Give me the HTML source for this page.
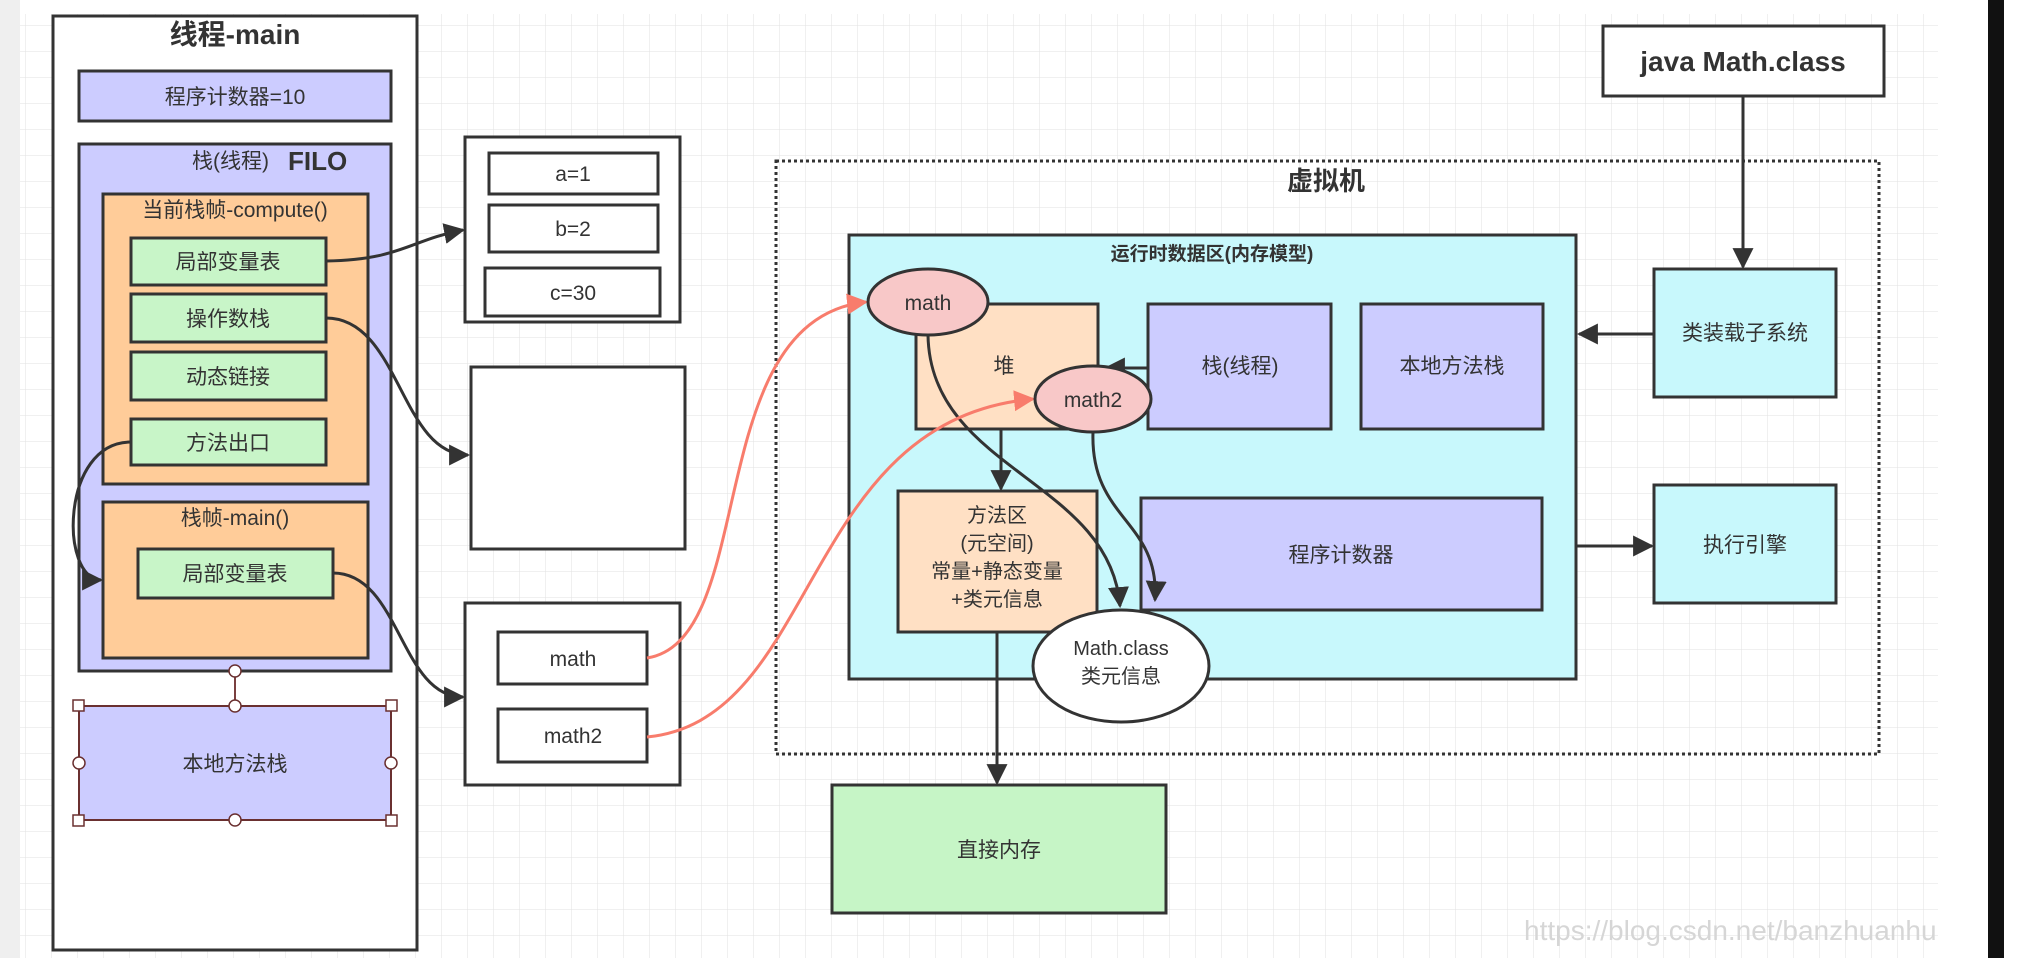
<!DOCTYPE html>
<html><head><meta charset="utf-8"><style>
html,body{margin:0;padding:0;background:#fff}
svg{display:block}
text{font-family:"Liberation Sans","Noto Sans CJK SC",sans-serif;fill:#333}
</style></head><body>
<svg width="2038" height="958" viewBox="0 0 2038 958" xmlns="http://www.w3.org/2000/svg">
<defs>
<pattern id="g" width="26" height="26" patternUnits="userSpaceOnUse"><path d="M26 0V26H0" fill="none" stroke="#e2e2e2" stroke-width="1"/></pattern>
<marker id="a" viewBox="0 0 10 10" refX="9" refY="5" markerWidth="7" markerHeight="7" orient="auto"><path d="M0 0L10 5L0 10z" fill="#333"/></marker>
<marker id="p" viewBox="0 0 10 10" refX="9" refY="5" markerWidth="7" markerHeight="7" orient="auto"><path d="M0 0L10 5L0 10z" fill="#f87c6c"/></marker>
</defs>
<rect x="0" y="0" width="2038" height="958" fill="#fff"/>
<rect x="20" y="14" width="1918" height="944" fill="url(#g)"/>
<rect x="0" y="0" width="20" height="958" fill="#efefef"/>
<rect x="1988" y="0" width="16" height="958" fill="#111"/>

<rect x="53" y="16" width="364" height="934" fill="#fff" stroke="#333" stroke-width="3"/>
<text x="235" y="44" font-size="28" font-weight="bold" text-anchor="middle">线程-main</text>
<rect x="79" y="71" width="312" height="50" fill="#ccccff" stroke="#333" stroke-width="3"/>
<text x="235" y="104" font-size="21" text-anchor="middle">程序计数器=10</text>
<rect x="79" y="144" width="312" height="527" fill="#ccccff" stroke="#333" stroke-width="3"/>
<text x="192" y="168" font-size="21">栈(线程)</text><text x="288" y="170" font-size="26" font-weight="bold">FILO</text>
<rect x="103" y="194" width="265" height="290" fill="#ffcc99" stroke="#333" stroke-width="3"/>
<text x="235" y="217" font-size="21" text-anchor="middle">当前栈帧-compute()</text>
<g fill="#c8f5c8" stroke="#333" stroke-width="3">
<rect x="131" y="238" width="195" height="47"/><rect x="131" y="294" width="195" height="48"/>
<rect x="131" y="352" width="195" height="48"/><rect x="131" y="419" width="195" height="46"/>
<rect x="103" y="502" width="265" height="156" fill="#ffcc99"/>
<rect x="138" y="549" width="195" height="49"/>
</g>
<g font-size="21" text-anchor="middle">
<text x="228" y="269">局部变量表</text><text x="228" y="326">操作数栈</text>
<text x="228" y="384">动态链接</text><text x="228" y="450">方法出口</text>
<text x="235" y="525">栈帧-main()</text><text x="235" y="581">局部变量表</text>
</g>
<line x1="235" y1="671" x2="235" y2="706" stroke="#7a4040" stroke-width="2"/>
<rect x="79" y="706" width="312" height="114" fill="#ccccff" stroke="#6a3030" stroke-width="2"/>
<text x="235" y="771" font-size="21" text-anchor="middle">本地方法栈</text>
<g fill="#fff" stroke="#6a3030" stroke-width="1.5">
<circle cx="235" cy="671" r="6"/><circle cx="235" cy="706" r="6"/><circle cx="79" cy="763" r="6"/><circle cx="391" cy="763" r="6"/><circle cx="235" cy="820" r="6"/>
<rect x="73" y="700" width="11" height="11"/><rect x="386" y="700" width="11" height="11"/><rect x="73" y="815" width="11" height="11"/><rect x="386" y="815" width="11" height="11"/>
</g>

<g fill="#fff" stroke="#333" stroke-width="3">
<rect x="465" y="137" width="215" height="185"/>
<rect x="489" y="153" width="169" height="41"/><rect x="489" y="205" width="169" height="47"/><rect x="485" y="268" width="175" height="48"/>
<rect x="471" y="367" width="214" height="182"/>
<rect x="465" y="603" width="215" height="182"/>
<rect x="498" y="632" width="149" height="52"/><rect x="498" y="709" width="149" height="53"/>
</g>
<g font-size="21" text-anchor="middle">
<text x="573" y="181">a=1</text><text x="573" y="236">b=2</text><text x="573" y="300">c=30</text>
<text x="573" y="666">math</text><text x="573" y="743">math2</text>
</g>

<rect x="1603" y="26" width="281" height="70" fill="#fff" stroke="#333" stroke-width="3"/>
<text x="1743" y="71" font-size="28" font-weight="bold" text-anchor="middle">java Math.class</text>
<rect x="776" y="161" width="1103" height="593" fill="none" stroke="#333" stroke-width="3" stroke-dasharray="3 3"/>
<text x="1326" y="190" font-size="26" font-weight="bold" text-anchor="middle">虚拟机</text>
<rect x="849" y="235" width="727" height="444" fill="#c8f8fc" stroke="#333" stroke-width="3"/>
<text x="1212" y="260" font-size="19" font-weight="bold" text-anchor="middle">运行时数据区(内存模型)</text>
<rect x="916" y="304" width="182" height="125" fill="#ffe0c4" stroke="#333" stroke-width="3"/>
<text x="1004" y="373" font-size="21" text-anchor="middle">堆</text>
<rect x="1148" y="304" width="183" height="125" fill="#ccccff" stroke="#333" stroke-width="3"/>
<text x="1240" y="373" font-size="21" text-anchor="middle">栈(线程)</text>
<rect x="1361" y="304" width="182" height="125" fill="#ccccff" stroke="#333" stroke-width="3"/>
<text x="1452" y="373" font-size="21" text-anchor="middle">本地方法栈</text>
<rect x="898" y="491" width="199" height="141" fill="#ffe0c4" stroke="#333" stroke-width="3"/>
<g font-size="20" text-anchor="middle"><text x="997" y="522">方法区</text><text x="997" y="550">(元空间)</text><text x="997" y="578">常量+静态变量</text><text x="997" y="606">+类元信息</text></g>
<rect x="1141" y="498" width="401" height="112" fill="#ccccff" stroke="#333" stroke-width="3"/>
<text x="1341" y="562" font-size="21" text-anchor="middle">程序计数器</text>
<rect x="1654" y="269" width="182" height="128" fill="#c8f8fc" stroke="#333" stroke-width="3"/>
<text x="1745" y="340" font-size="21" text-anchor="middle">类装载子系统</text>
<rect x="1654" y="485" width="182" height="118" fill="#c8f8fc" stroke="#333" stroke-width="3"/>
<text x="1745" y="552" font-size="21" text-anchor="middle">执行引擎</text>
<rect x="832" y="785" width="334" height="128" fill="#c6f5c6" stroke="#333" stroke-width="3"/>
<text x="999" y="857" font-size="21" text-anchor="middle">直接内存</text>

<g fill="none" stroke="#333" stroke-width="3" marker-end="url(#a)">
<line x1="1743" y1="96" x2="1743" y2="267"/>
<line x1="1654" y1="334" x2="1579" y2="334"/>
<line x1="1576" y1="546" x2="1652" y2="546"/>
<line x1="997" y1="632" x2="997" y2="783"/>
<line x1="1001" y1="429" x2="1001" y2="489"/>
<line x1="1148" y1="368" x2="1106" y2="368"/>
<path d="M928 335 C930 470 1110 480 1120 606"/>
<path d="M1093 432 C1090 520 1160 520 1155 600"/>
<path d="M326 261 C400 260 410 240 463 230"/>
<path d="M326 318 C400 318 400 455 468 455"/>
<path d="M131 442 C60 442 60 580 101 580"/>
<path d="M333 573 C400 573 400 697 463 697"/>
</g>
<g fill="none" stroke="#f87c6c" stroke-width="3" marker-end="url(#p)">
<path d="M647 658 C760 640 700 320 866 302"/>
<path d="M647 737 C820 720 800 420 1033 399"/>
</g>
<ellipse cx="1121" cy="666" rx="88" ry="56" fill="#fff" stroke="#333" stroke-width="3"/>
<g font-size="20" text-anchor="middle"><text x="1121" y="655">Math.class</text><text x="1121" y="683">类元信息</text></g>
<ellipse cx="928" cy="302" rx="60" ry="33" fill="#f8c8c8" stroke="#333" stroke-width="3"/>
<text x="928" y="310" font-size="21" text-anchor="middle">math</text>
<ellipse cx="1093" cy="399" rx="58" ry="33" fill="#f8c8c8" stroke="#333" stroke-width="3"/>
<text x="1093" y="407" font-size="21" text-anchor="middle">math2</text>
<text x="1524" y="940" font-size="28" style="fill:#d6d6d6">https://blog.csdn.net/banzhuanhu</text>
</svg>
</body></html>
